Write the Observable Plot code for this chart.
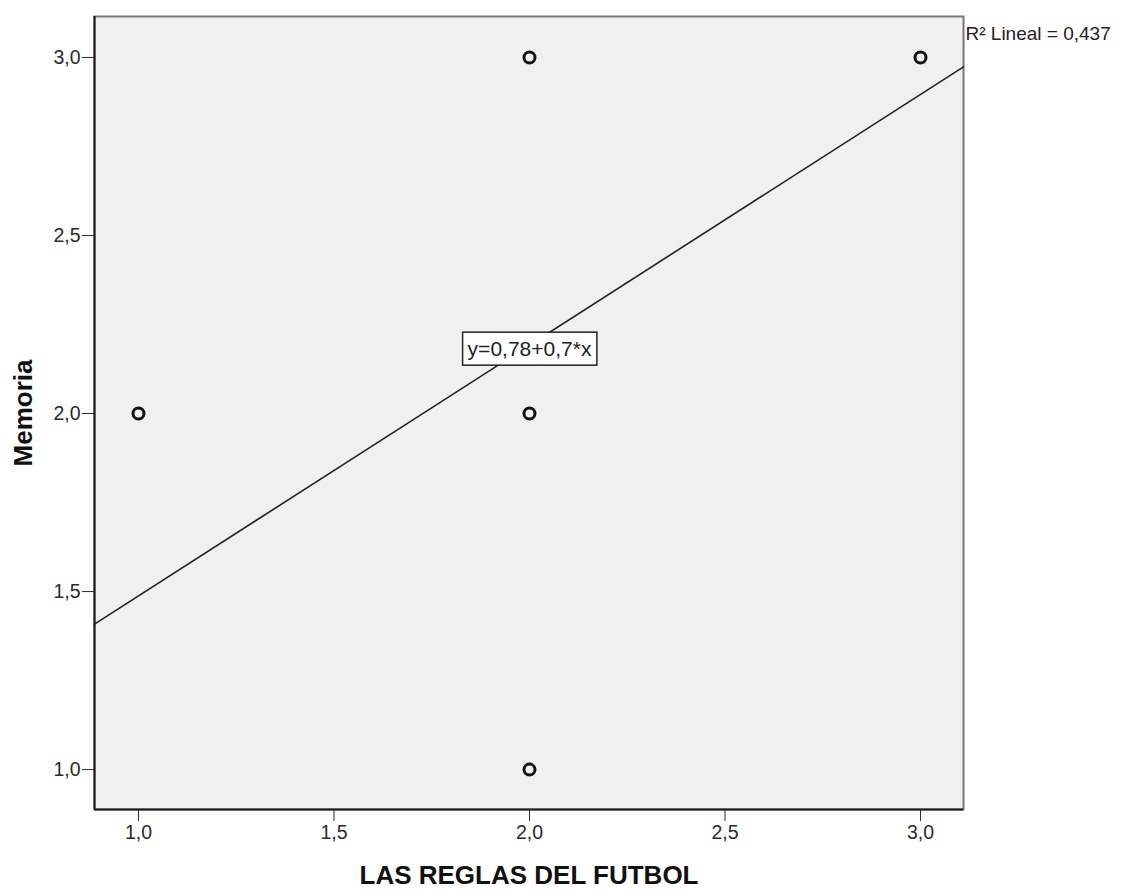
<!DOCTYPE html>
<html>
<head>
<meta charset="utf-8">
<script src="https://cdn.jsdelivr.net/npm/d3@7"></script>
<script src="https://cdn.jsdelivr.net/npm/@observablehq/plot@0.6"></script>
<style>
  html, body { margin: 0; padding: 0; background: #ffffff; }
  #chart { width: 1121px; height: 890px; }
</style>
</head>
<body>
<div id="chart"></div>
<script>
// ---- data ----
const xValues = [1, 2, 2, 2, 3];          // LAS REGLAS DEL FUTBOL
const yValues = [2, 3, 2, 1, 3];          // Memoria
const xTicks = [1, 1.5, 2, 2.5, 3];
const yTicks = [1, 1.5, 2, 2.5, 3];
const xDomain = [0.8875, 3.11];
const yDomain = [0.888, 3.115];
const fitIntercept = 0.784;
const fitSlope = 0.704;
const equationLabel = "y=0,78+0,7*x";
const equationAtX = 2.0;
const equationAtY = 2.18;
const r2Label = "R\u00B2 Lineal = 0,437";
const xTitle = "LAS REGLAS DEL FUTBOL";
const yTitle = "Memoria";

const points = xValues.map((x, i) => ({x, y: yValues[i]}));
const fitLine = xDomain.map(x => ({x, y: fitIntercept + fitSlope * x}));
const fmt = d => d.toFixed(1).replace(".", ",");

const font = "'Liberation Sans', Arial, Helvetica, sans-serif";

const chart = Plot.plot({
  width: 1121,
  height: 890,
  marginLeft: 94,
  marginRight: 158,
  marginTop: 16,
  marginBottom: 81,
  style: {fontFamily: font, fontSize: "19.5px", color: "#2a2a2a", background: "#ffffff", overflow: "visible"},
  x: {domain: xDomain, ticks: xTicks, tickFormat: fmt, tickSize: 12, tickPadding: 4, label: null},
  y: {domain: yDomain, ticks: yTicks, tickFormat: fmt, tickSize: 12, tickPadding: 2, label: null},
  marks: [
    Plot.frame({fill: "#f0f0f0", stroke: "#777", strokeWidth: 2}),
    Plot.ruleX([xDomain[0]], {stroke: "#1a1a1a", strokeWidth: 2}),
    Plot.ruleY([yDomain[0]], {stroke: "#1a1a1a", strokeWidth: 2}),
    Plot.line(fitLine, {x: "x", y: "y", stroke: "#222", strokeWidth: 1.6}),
    Plot.dot(points, {x: "x", y: "y", r: 5.5, stroke: "#111", strokeWidth: 3, fill: "none"}),
    Plot.text([equationLabel], {x: () => equationAtX, y: () => equationAtY, text: d => d,
      fontSize: 21, fill: "#222", textAnchor: "middle", lineAnchor: "middle"}),
    Plot.text([r2Label], {frameAnchor: "top-right", text: d => d, textAnchor: "start",
      lineAnchor: "middle", dx: 2, dy: 17, fontSize: 19, fill: "#222"}),
    Plot.text([xTitle], {frameAnchor: "bottom", text: d => d, textAnchor: "middle",
      lineAnchor: "bottom", dy: 74, fontSize: 26, fontWeight: "bold", fill: "#111"}),
    Plot.text([yTitle], {frameAnchor: "left", text: d => d, textAnchor: "middle",
      lineAnchor: "middle", rotate: -90, dx: -71, fontSize: 26, fontWeight: "bold", fill: "#111"})
  ]
});

document.getElementById("chart").appendChild(chart);

// white box behind the equation label
const svg = chart.tagName.toLowerCase() === "svg" ? chart : chart.querySelector("svg");
svg.querySelectorAll("text").forEach(t => {
  if (t.textContent === equationLabel) {
    const bb = t.getBBox();
    const padX = 5, padY = 7;
    const ns = "http://www.w3.org/2000/svg";
    const rect = document.createElementNS(ns, "rect");
    rect.setAttribute("x", bb.x - padX);
    rect.setAttribute("y", bb.y - padY + 2);
    rect.setAttribute("width", bb.width + 2 * padX);
    rect.setAttribute("height", bb.height + 2 * padY - 4);
    rect.setAttribute("fill", "#ffffff");
    rect.setAttribute("stroke", "#222");
    rect.setAttribute("stroke-width", "1.5");
    const tr = t.getAttribute("transform");
    if (tr) rect.setAttribute("transform", tr);
    t.parentNode.insertBefore(rect, t);
  }
});
</script>
</body>
</html>
